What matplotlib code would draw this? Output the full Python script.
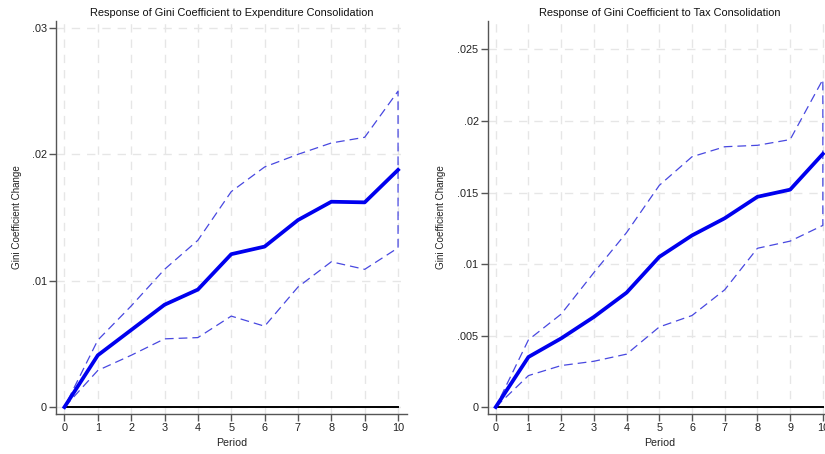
import matplotlib
matplotlib.use("Agg")
import matplotlib.pyplot as plt
import numpy as np

plt.rcParams['font.family'] = ['Liberation Sans', 'DejaVu Sans']

periods = list(range(11))

# expenditure consolidation
exp_irf = [0, 0.0041, 0.0061, 0.0081, 0.0093, 0.0121, 0.0127, 0.0148, 0.01625, 0.0162, 0.01877]
exp_upper = [0, 0.0053, 0.0080, 0.0109, 0.0132, 0.01705, 0.0190, 0.0200, 0.0209, 0.02135, 0.0250]
exp_lower = [0, 0.0029, 0.0041, 0.0054, 0.0055, 0.0072, 0.0064, 0.0095, 0.0115, 0.0109, 0.0126]

# tax consolidation
tax_irf = [0, 0.0035, 0.0048, 0.0063, 0.0080, 0.0105, 0.0120, 0.0132, 0.0147, 0.0152, 0.0177]
tax_upper = [0, 0.0047, 0.0065, 0.0094, 0.0122, 0.0155, 0.0175, 0.0182, 0.0183, 0.0187, 0.0229]
tax_lower = [0, 0.0022, 0.0029, 0.0032, 0.0037, 0.0056, 0.0064, 0.0082, 0.0111, 0.0116, 0.0127]

exp_yticks = [0, 0.01, 0.02, 0.03]
exp_ylabels = ['0', '.01', '.02', '.03']
tax_yticks = [0, 0.005, 0.01, 0.015, 0.02, 0.025]
tax_ylabels = ['0', '.005', '.01', '.015', '.02', '.025']

fig = plt.figure(figsize=(8.25, 4.54), dpi=100)
ax1 = fig.add_axes([0.068, 0.088, 0.425, 0.866])
ax2 = fig.add_axes([0.591, 0.088, 0.4167, 0.866])


def panel(ax, irf, lo, hi, title, yticks, ylabels, ylim, ylab_x):
    # grid
    for x in periods:
        ax.axvline(x, color='#e6e6e6', lw=1, ls=(0, (6, 5)), zorder=0)
    for y in yticks:
        ax.axhline(y, color='#e6e6e6', lw=1, ls=(0, (6, 5)), zorder=0)
    ax.plot([0, 10], [0, 0], color='black', lw=1.4, zorder=2)
    # band drawn as one closed dashed path
    band_x = periods + periods[::-1]
    band_y = lo + hi[::-1]
    ax.plot(band_x, band_y, color='#4848e0', lw=0.9, ls=(0, (7, 4)), zorder=3)
    ax.plot(periods, irf, color='#0000ee', lw=2.7, zorder=4, solid_joinstyle='round')
    ax.set_xlim(-0.25, 10.26)
    ax.set_ylim(*ylim)
    ax.set_xticks(periods)
    ax.set_yticks(yticks)
    ax.set_yticklabels(ylabels)
    ax.set_title(title, fontsize=7.9, pad=3.5, color='#111111')
    ax.set_xlabel('Period', fontsize=7.7, color='#222222')
    ax.set_ylabel('Gini Coefficient Change', fontsize=7.1, color='#222222')
    ax.xaxis.set_label_coords(0.5, -0.06)
    ax.yaxis.set_label_coords(ylab_x, 0.5)
    for s in ['top', 'right']:
        ax.spines[s].set_visible(False)
    for s in ['left', 'bottom']:
        ax.spines[s].set_color('#555555')
        ax.spines[s].set_linewidth(1.0)
    ax.tick_params(colors='#555555', labelcolor='#222222', labelsize=7.8,
                   length=5, width=1, pad=1.5)


panel(ax1, exp_irf, exp_lower, exp_upper,
      'Response of Gini Coefficient to Expenditure Consolidation',
      exp_yticks, exp_ylabels, (-0.00055, 0.03056), -0.098)
panel(ax2, tax_irf, tax_lower, tax_upper,
      'Response of Gini Coefficient to Tax Consolidation',
      tax_yticks, tax_ylabels, (-0.00049, 0.0270), -0.12)

fig.savefig('out.png', dpi=100, facecolor='white')
